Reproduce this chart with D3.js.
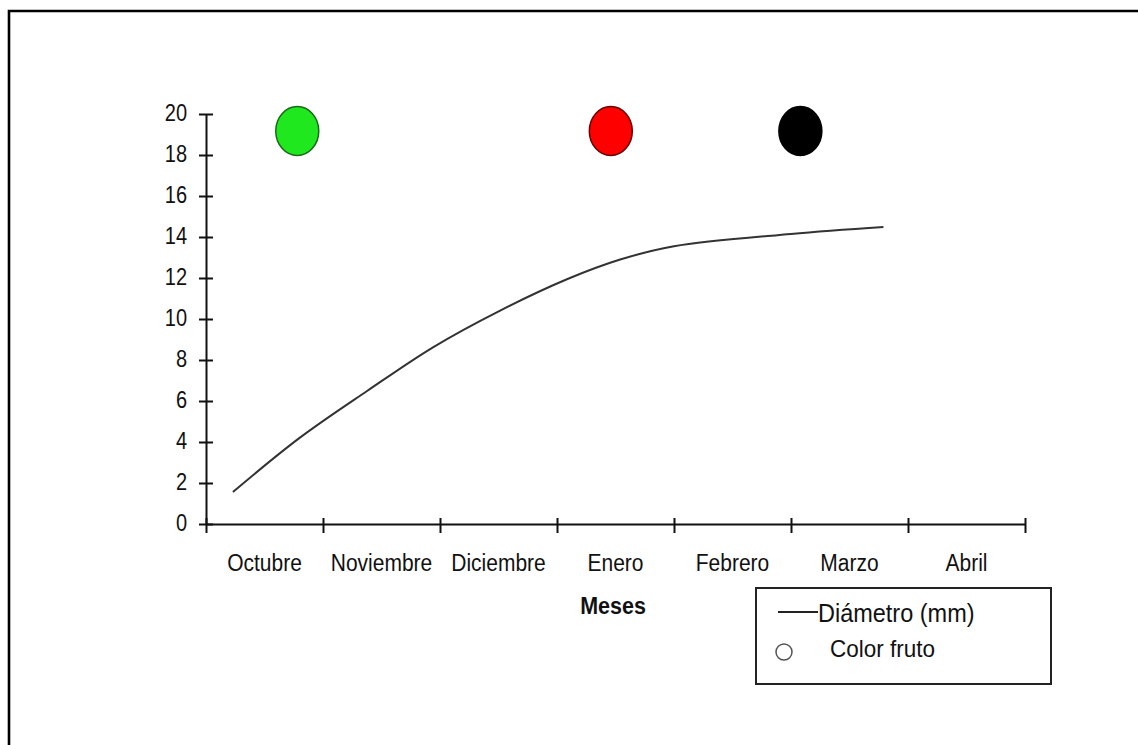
<!DOCTYPE html>
<html>
<head>
<meta charset="utf-8">
<script src="https://cdn.jsdelivr.net/npm/d3@7"></script>
<style>
  html, body { margin: 0; padding: 0; background: #fff; }
  svg { display: block; }
  text { font-family: "Liberation Sans", Arial, sans-serif; fill: #111; }
</style>
</head>
<body>
<svg id="chart" width="1138" height="745"></svg>
<script>
// ---- data ----
const months = ["Octubre", "Noviembre", "Diciembre", "Enero", "Febrero", "Marzo", "Abril"];
const yTicks = [0, 2, 4, 6, 8, 10, 12, 14, 16, 18, 20];
// diameter curve (x in months from start of Octubre, y in mm)
const diamX = [0.23, 0.80, 1.38, 1.94, 2.51, 3.09, 3.54, 4.00, 5.00, 5.79];
const diamY = [1.56, 4.20, 6.50, 8.62, 10.40, 11.95, 12.90, 13.55, 14.15, 14.49];
// fruit colour markers
const colorX = [0.78, 3.46, 5.08];
const colorY = [19.17, 19.17, 19.17];
const colorFill = ["#1fe81f", "#ff0000", "#000000"];
const colorStroke = ["#1a6a1a", "#6a0000", "#000000"];
const legendLabels = ["Diámetro (mm)", "Color fruto"];
const xTitle = "Meses";

// ---- layout ----
const SY = 1.15; // vertical stretch of the original lettering
const svg = d3.select("#chart");
const x = d3.scaleLinear().domain([0, months.length]).range([206, 1025]);
const xBand = d3.scaleBand().domain(months).range([206, 1025]);
const y = d3.scaleLinear().domain([0, 20]).range([524, 114]);

// outer frame (left and top visible)
svg.append("path")
  .attr("d", "M9,760 L9,11 L1150,11")
  .attr("fill", "none").attr("stroke", "#000").attr("stroke-width", 2.6);

// y axis
const gy = svg.append("g").attr("transform", `translate(${x(0)},0)`)
  .call(d3.axisLeft(y).tickValues(yTicks).tickSizeOuter(0));
gy.select(".domain").attr("stroke", "#111").attr("stroke-width", 2);
gy.selectAll(".tick line").attr("x1", -7).attr("x2", 7).attr("stroke", "#111").attr("stroke-width", 2);
gy.selectAll(".tick text").attr("font-size", 20).attr("x", -19).attr("y", 0).attr("dy", "0.3em")
  .attr("transform", `scale(1,${SY})`)
  .attr("font-family", '"Liberation Sans", Arial, sans-serif').attr("fill", "#111");

// x axis (ticks at month boundaries)
const gx = svg.append("g").attr("transform", `translate(0,${y(0)})`)
  .call(d3.axisBottom(x).tickValues(d3.range(0, months.length + 1)).tickFormat("").tickSizeOuter(0));
gx.select(".domain").attr("stroke", "#111").attr("stroke-width", 2);
gx.selectAll(".tick line").attr("y1", -6).attr("y2", 9).attr("stroke", "#111").attr("stroke-width", 2);

// month labels
const gxl = svg.append("g").attr("transform", `translate(0,${y(0)})`)
  .call(d3.axisBottom(xBand).tickSize(0));
gxl.select(".domain").remove();
gxl.selectAll(".tick text").attr("font-size", 21).attr("y", 47 / SY).attr("dy", 0)
  .attr("transform", `scale(1,${SY})`)
  .attr("font-family", '"Liberation Sans", Arial, sans-serif').attr("fill", "#111");

// axis title
svg.append("g").attr("transform", "translate(613,614)")
  .append("text").attr("text-anchor", "middle").attr("transform", `scale(1,${SY})`)
  .attr("font-size", 21.5).attr("font-weight", "bold").text(xTitle);

// diameter line
const pts = diamX.map((d, i) => [d, diamY[i]]);
svg.append("path")
  .attr("d", d3.line().x(d => x(d[0])).y(d => y(d[1])).curve(d3.curveCatmullRom.alpha(0.5))(pts))
  .attr("fill", "none").attr("stroke", "#333").attr("stroke-width", 2);

// colour markers
svg.selectAll("ellipse.fruit").data(colorX).join("ellipse")
  .attr("class", "fruit")
  .attr("cx", d => x(d)).attr("cy", (d, i) => y(colorY[i]))
  .attr("rx", 21.5).attr("ry", 24.5)
  .attr("fill", (d, i) => colorFill[i])
  .attr("stroke", (d, i) => colorStroke[i]).attr("stroke-width", 1.5);

// legend
const lg = svg.append("g");
lg.append("rect").attr("x", 756).attr("y", 588).attr("width", 295).attr("height", 96)
  .attr("fill", "#fff").attr("stroke", "#222").attr("stroke-width", 2);
lg.append("line").attr("x1", 778).attr("x2", 818).attr("y1", 612).attr("y2", 612)
  .attr("stroke", "#222").attr("stroke-width", 2);
lg.append("g").attr("transform", "translate(818,622)")
  .append("text").attr("transform", "scale(1,1.08)").attr("font-size", 23.5).text(legendLabels[0]);
lg.append("circle").attr("cx", 784).attr("cy", 652).attr("r", 8)
  .attr("fill", "#fff").attr("stroke", "#555").attr("stroke-width", 1.5);
lg.append("g").attr("transform", "translate(830,657)")
  .append("text").attr("transform", "scale(1,1.08)").attr("font-size", 22.5).text(legendLabels[1]);
</script>
</body>
</html>
